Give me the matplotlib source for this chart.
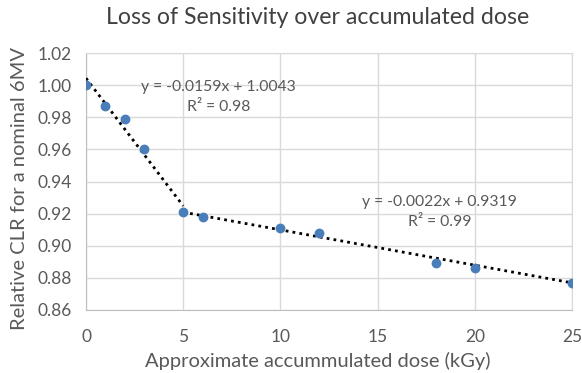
import numpy as np
import matplotlib
matplotlib.use("Agg")
import matplotlib.pyplot as plt

# data
dose = [0, 1, 2, 3, 5, 6, 10, 12, 18, 20, 25]
clr = [1.000, 0.987, 0.979, 0.960, 0.921, 0.918, 0.911, 0.908, 0.889, 0.886, 0.877]

# trendlines (slope, intercept), x range and R^2 labels
fit1 = (-0.0159, 1.0043)
fit1_range = (0, 5)
fit1_r2 = "0.98"
fit2 = (-0.0022, 0.9319)
fit2_range = (5, 25)
fit2_r2 = "0.99"

x_ticks = [0, 5, 10, 15, 20, 25]
y_ticks = [0.86, 0.88, 0.90, 0.92, 0.94, 0.96, 0.98, 1.00, 1.02]

plt.rcParams['font.family'] = ['Lato', 'DejaVu Sans']
text_col = '#595959'
grid_col = '#d9d9d9'
dot_col = '#4a7ebb'

fig = plt.figure(figsize=(5.82, 3.73), dpi=100)
ax = fig.add_axes([86 / 582, 1 - 310 / 373, 486 / 582, 257 / 373])

# trendlines
for (m, b), (x0, x1) in [(fit1, fit1_range), (fit2, fit2_range)]:
    xs = np.array([x0, x1])
    ax.plot(xs, m * xs + b, color='black', linestyle=(0, (1, 1.5)), linewidth=2.0, zorder=3)

ax.scatter(dose, clr, s=50, color=dot_col, zorder=4, linewidths=0)

ann = dict(ha='center', va='center', fontsize=11.3, color=text_col)
ax.text(6.8, 0.9988, f"y = {fit1[0]}x + {fit1[1]}", **ann)
ax.text(6.8, 0.9864, f"R² = {fit1_r2}", **ann)
ax.text(18.2, 0.9272, f"y = {fit2[0]}x + {fit2[1]}", **ann)
ax.text(18.2, 0.9148, f"R² = {fit2_r2}", **ann)

ax.set_xlim(0, 25)
ax.set_ylim(0.86, 1.02)
ax.set_xticks(x_ticks)
ax.set_yticks(y_ticks)
ax.set_yticklabels([f"{v:.2f}" for v in y_ticks])
ax.grid(True, color=grid_col, linewidth=1)
ax.set_axisbelow(True)
for sp in ax.spines.values():
    sp.set_color(grid_col)
ax.spines['left'].set_color('#bfbfbf')
ax.spines['bottom'].set_color('#bfbfbf')
ax.tick_params(length=0, labelsize=12.5, colors=text_col, pad=10)
ax.tick_params(axis='x', pad=14)

ax.set_xlabel("Approximate accummulated dose (kGy)", fontsize=14.5, color=text_col,
              labelpad=5, x=(318 - 86) / 486)
ax.set_ylabel("Relative CLR for a nominal 6MV", fontsize=14.5, color=text_col,
              labelpad=7, y=(310 - 188) / 257)
fig.text(318 / 582, 1 - 17 / 373, "Loss of Sensitivity over accumulated dose",
         ha='center', va='center', fontsize=16.7, color='#404040')

fig.savefig("out.png", dpi=100)
